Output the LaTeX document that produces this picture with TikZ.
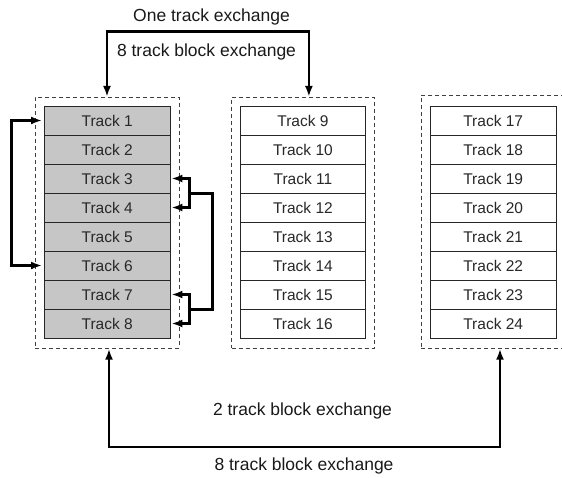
\documentclass[tikz,border=0pt]{standalone}
\usepackage{fontspec}
\setmainfont{Liberation Sans}
\usetikzlibrary{arrows.meta,calc}
\definecolor{rowgray}{RGB}{198,198,198}
\definecolor{txt}{RGB}{40,40,40}
\tikzset{
  trk/.style={draw=black!85, line width=0.9pt, minimum width=125.5pt, minimum height=29pt,
              inner sep=0pt, font=\fontsize{15.5}{16}\selectfont, text=txt},
  grayrow/.style={trk, fill=rowgray},
  whiterow/.style={trk, fill=white},
  dbox/.style={draw=black!75, dash pattern=on 4pt off 3pt, line width=0.8pt, inner sep=0pt},
  conn/.style={line width=2.6pt, line join=miter},
  dblarr/.style={conn, {Latex[length=11pt,width=8pt]}-{Latex[length=11pt,width=8pt]}},
  lbl/.style={font=\fontsize{17.5}{18}\selectfont, text=black!90, inner sep=0pt}
}
\begin{document}
\begin{tikzpicture}[x=1pt,y=-1pt]
\useasboundingbox (0,0) rectangle (562,477);
\clip (0,0) rectangle (562,477);
% dashed enclosures
\node[dbox, minimum width=144pt, minimum height=251pt] (d1) at (107,222.8) {};
\node[dbox, minimum width=142.8pt, minimum height=251pt] (d2) at (302.9,222.8) {};
\node[dbox, minimum width=145pt, minimum height=253.3pt] (d3) at (493.5,221.65) {};
% block 1
\foreach \i in {1,...,8}{
  \node[grayrow] (t\i) at (107.2,{106+29*(\i-0.5)}) {Track \i};
}
% block 2
\foreach \i [evaluate=\i as \n using int(\i+8)] in {1,...,8}{
  \node[whiterow] (t\n) at (302.9,{106+29*(\i-0.5)}) {Track \n};
}
% block 3
\foreach \i [evaluate=\i as \n using int(\i+16)] in {1,...,8}{
  \node[whiterow] (t\n) at (493.2,{106+29*(\i-0.5)}) {Track \n};
}
% top exchange
\draw[dblarr] (d1.north) -- ++(0,-65.6) -| ([xshift=6pt]d2.north);
\node[lbl] (l1) at (211.5,17) {One track exchange};
\node[lbl] (l2) at (206.5,52) {8 track block exchange};
% bottom exchange
\draw[dblarr] ([xshift=2pt]d1.south) -- ++(0,98.4) -| ([xshift=6.5pt]d3.south);
\node[lbl] (l3) at (302.5,411) {2 track block exchange};
\node[lbl] (l4) at (304,466) {8 track block exchange};
% left exchange track 1 <-> track 6
\draw[dblarr, shorten >=2pt, shorten <=2pt] (t1.west) -- ++(-32.3,0) |- (t6.west);
% right brackets
\draw[dblarr, shorten >=1pt, shorten <=1pt] (t3.east) -- ++(19,0) |- (t4.east);
\draw[dblarr, shorten >=1pt, shorten <=1pt] (t7.east) -- ++(19,0) |- (t8.east);
\coordinate (b34) at ($(t3.south east)+(19,0)$);
\coordinate (b78) at ($(t7.south east)+(19,0)$);
\draw[conn] (b34) -- ++(23,0) |- (b78);
\end{tikzpicture}
\end{document}
